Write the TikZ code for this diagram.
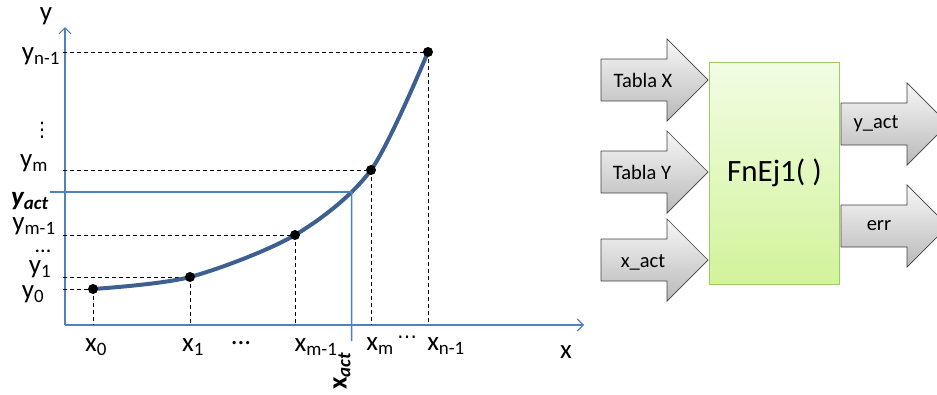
\documentclass[tikz,border=0pt]{standalone}
\usepackage{fontspec}
\setmainfont{Carlito}
\newfontfamily\dejavu{DejaVu Sans}
\usetikzlibrary{arrows.meta,intersections}
\definecolor{axisblue}{HTML}{4F81BD}
\definecolor{curveblue}{HTML}{3D6090}
\definecolor{boxtop}{HTML}{F2FDE4}
\definecolor{boxbot}{HTML}{D2F39A}
\definecolor{boxline}{HTML}{9CCB6A}
\newcommand{\fatarrow}[2]{%
  \path[arrowshape] (#1,#2-21) -- (#1+66,#2-21) -- (#1+66,#2-41) -- (#1+107,#2) -- (#1+66,#2+41) -- (#1+66,#2+21) -- (#1,#2+21) -- cycle;}
\tikzset{
  axis/.style={axisblue, line width=1.1pt},
  guide/.style={black, line width=0.8pt, dash pattern=on 4pt off 3pt},
  actline/.style={axisblue, line width=1.6pt},
  lab/.style={font=\fontsize{27}{27}\selectfont, inner sep=0pt},
  arrowshape/.style={draw=black!75, line width=0.7pt, top color=gray!6, bottom color=gray!55},
  arrtext/.style={font=\fontsize{20.5}{20.5}\selectfont, inner sep=0pt},
  dot/.style={circle, fill=black, inner sep=0pt, minimum size=10pt},
}
\begin{document}
\begin{tikzpicture}[x=1pt,y=-1pt]
\useasboundingbox (0,0) rectangle (937,394);
\clip (0,0) rectangle (937,394);
% axes
\coordinate (o) at (65,325);
\coordinate (ytip) at (65,27);
\coordinate (xtip) at (584,325);
\draw[axis,-{Straight Barb[length=6pt,width=12pt]}] (o) -- (ytip);
\draw[axis,-{Straight Barb[length=6pt,width=12pt]}] (o) -- (xtip);
\node[lab] (ylab) at (46,16) {y};
\node[lab] (xlab) at (566,352) {x};
% points
\coordinate (p0) at (93,289);
\coordinate (p1) at (190,277);
\coordinate (p2) at (295,235);
\coordinate (p3) at (371,170);
\coordinate (p4) at (428,52);
% guides
\foreach \p in {p0,p1,p2,p3,p4}{
  \draw[guide] (63,0 |- \p) -- (\p);
  \draw[guide] (\p) -- (\p |- o);
}
% curve
\draw[curveblue, line width=4pt, line cap=round, name path=curve] plot[smooth, tension=0.5] coordinates {(93,289) (190,277) (295,235) (371,170) (428,52)};
% y_act / x_act lines
\coordinate (ya) at (50,192);
\path[name path=hline] (ya) -- (500,192);
\path[name intersections={of=curve and hline, by=c}];
\coordinate (xa) at (c |- 0,341);
\draw[actline] (ya) -- (c) -- (xa);
\foreach \p in {p0,p1,p2,p3,p4}{ \node[dot] at (\p) {}; }
% y labels
\node[lab] (yn1) at (41,56) {y\textsubscript{n-1}};
\node[lab, font=\dejavu\fontsize{20}{20}\selectfont] (yvd) at (42,130) {⋮};
\node[lab] (ym) at (34,163) {y\textsubscript{m}};
\node[lab] (yact) at (30,201) {\textbf{\textit{y\textsubscript{act}}}};
\node[lab] (ym1) at (34,226) {y\textsubscript{m-1}};
\node[lab, font=\fontsize{22}{22}\selectfont] (ydots) at (43,251) {...};
\node[lab] (y1) at (40,269) {y\textsubscript{1}};
\node[lab] (y0) at (33,294) {y\textsubscript{0}};
% x labels
\node[lab] (x0) at (96,347) {x\textsubscript{0}};
\node[lab] (x1) at (193,347) {x\textsubscript{1}};
\node[lab] (xdots) at (241,343) {...};
\node[lab] (xm1) at (316,347) {x\textsubscript{m-1}};
\node[lab, rotate=90] (xact) at (342,371) {\textbf{x}\textbf{\textit{\textsubscript{act}}}};
\node[lab] (xm) at (380,346) {x\textsubscript{m}};
\node[lab, font=\dejavu\fontsize{20}{20}\selectfont] (xdots2) at (407,340) {⋯};
\node[lab] (xn1) at (446,346) {x\textsubscript{n-1}};
% block
\node[draw=boxline, line width=0.8pt, top color=boxtop, bottom color=boxbot, minimum width=130pt, minimum height=222pt, inner sep=0pt, font=\fontsize{31}{31}\selectfont] (fn) at (774.5,173) {FnEj1( )};
\fatarrow{601}{80}
\fatarrow{601}{172}
\fatarrow{601}{260}
\fatarrow{841}{124}
\fatarrow{841}{226}
\node[arrtext] (tx) at (643,80) {Tabla X};
\node[arrtext] (ty) at (642,172) {Tabla Y};
\node[arrtext] (txa) at (643,262) {x\_act};
\node[arrtext] (tya) at (876,124) {y\_act};
\node[arrtext] (terr) at (879,226) {err};
\end{tikzpicture}
\end{document}
